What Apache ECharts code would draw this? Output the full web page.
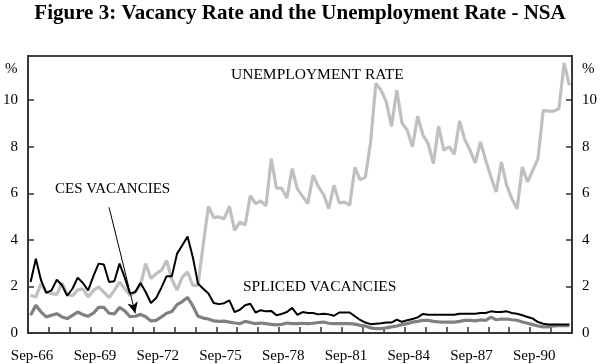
<!DOCTYPE html>
<html>
<head>
<meta charset="utf-8">
<script src="https://cdn.jsdelivr.net/npm/echarts@6/dist/echarts.min.js"></script>
<style>html,body{margin:0;padding:0;background:#fff}#c{width:600px;height:364px}</style>
</head>
<body>
<div id="c"></div>
<script>
// Quarterly categories Sep-66 .. Jun-92
var months = ['Sep', 'Dec', 'Mar', 'Jun'];
var categories = [];
(function () {
  var yr = 66;
  for (var i = 0; i < 104; i++) {
    var m = months[i % 4];
    var y = (m === 'Sep' || m === 'Dec') ? yr : yr + 1;
    categories.push(m + '-' + (y < 10 ? '0' + y : y));
    if (m === 'Jun') yr++;
  }
})();

var yTicks = [0, 2, 4, 6, 8, 10];

var unemploymentRate = [
  1.62, 1.55, 2.12, 1.76, 1.70, 1.65, 2.15, 1.66, 1.60, 1.85,
  1.90, 1.55, 1.83, 1.98, 1.76, 1.52, 1.83, 2.19, 1.90, 1.62,
  1.76, 2.05, 2.98, 2.34, 2.55, 2.69, 3.12, 2.30, 1.85, 2.40,
  2.62, 2.05, 2.05, 3.80, 5.44, 4.96, 4.99, 4.90, 5.44, 4.41,
  4.77, 4.63, 5.90, 5.56, 5.67, 5.46, 7.49, 6.22, 6.22, 5.80,
  7.06, 6.18, 5.87, 5.56, 6.78, 6.30, 5.95, 5.34, 6.35, 5.59,
  5.62, 5.49, 7.12, 6.58, 6.70, 8.20, 10.72, 10.43, 9.93, 8.88,
  10.43, 9.03, 8.71, 8.00, 9.31, 8.50, 8.14, 7.28, 8.88, 7.85,
  8.00, 7.68, 9.11, 8.31, 7.85, 7.31, 8.21, 7.42, 6.70, 6.06,
  7.35, 6.35, 5.77, 5.34, 7.13, 6.49, 6.99, 7.49, 9.57, 9.53,
  9.53, 9.64, 11.60, 10.64
];

var splicedVacancies = [
  2.19, 3.19, 2.26, 1.72, 1.83, 2.29, 2.05, 1.60, 1.90, 2.38,
  2.15, 1.83, 2.44, 2.98, 2.94, 2.19, 2.22, 2.98, 2.38, 1.69,
  1.76, 2.15, 1.76, 1.29, 1.50, 1.95, 2.44, 2.44, 3.41, 3.77,
  4.15, 3.27, 2.12, 1.90, 1.70, 1.29, 1.24, 1.28, 1.40, 0.90,
  1.00, 1.19, 1.26, 0.88, 0.98, 0.93, 0.95, 0.76, 0.82, 0.90,
  1.08, 0.78, 0.90, 0.86, 0.86, 0.80, 0.83, 0.80, 0.74, 0.88,
  0.88, 0.88, 0.72, 0.56, 0.45, 0.38, 0.40, 0.42, 0.45, 0.45,
  0.57, 0.48, 0.55, 0.60, 0.67, 0.82, 0.78, 0.78, 0.78, 0.78,
  0.78, 0.78, 0.83, 0.83, 0.83, 0.83, 0.86, 0.86, 0.93, 0.90,
  0.90, 0.93, 0.86, 0.83, 0.76, 0.69, 0.62, 0.47, 0.40, 0.37,
  0.37, 0.37, 0.37, 0.37
];

var cesVacancies = [
  0.76, 1.19, 0.90, 0.69, 0.76, 0.83, 0.69, 0.62, 0.76, 0.90,
  0.79, 0.72, 0.85, 1.10, 1.10, 0.85, 0.82, 1.10, 0.95, 0.70,
  0.72, 0.80, 0.70, 0.52, 0.54, 0.69, 0.85, 0.92, 1.22, 1.35,
  1.53, 1.17, 0.72, 0.64, 0.60, 0.52, 0.50, 0.51, 0.47, 0.43,
  0.40, 0.50, 0.45, 0.40, 0.43, 0.40, 0.37, 0.35, 0.37, 0.43,
  0.40, 0.40, 0.42, 0.40, 0.42, 0.45, 0.47, 0.42, 0.40, 0.40,
  0.40, 0.40, 0.38, 0.33, 0.30, 0.22, 0.19, 0.19, 0.22, 0.26,
  0.30, 0.36, 0.40, 0.47, 0.50, 0.54, 0.54, 0.50, 0.48, 0.47,
  0.47, 0.47, 0.50, 0.54, 0.54, 0.52, 0.56, 0.54, 0.68, 0.57,
  0.60, 0.60, 0.57, 0.55, 0.47, 0.42, 0.36, 0.30, 0.26, 0.26,
  0.30, 0.32, 0.32, 0.32
];

// annotation arrow: from [category index, value] to [category index, value]
var arrowFrom = [15, 5.4];
var arrowTo = [20, 0.85];

var FONT = '"Liberation Serif", "Times New Roman", serif';
var chart = echarts.init(document.getElementById('c'), null, { renderer: 'canvas' });

var yAxisCommon = {
  type: 'value', min: 0, max: 11.9, interval: 2,
  axisLine: { show: true, lineStyle: { color: '#333', width: 1.5 } },
  axisTick: { show: true, inside: true, length: 6, lineStyle: { color: '#333', width: 1.5 } },
  axisLabel: { fontFamily: FONT, fontSize: 15, color: '#000', margin: 10, showMaxLabel: false,
    formatter: function (v) { return yTicks.indexOf(v) >= 0 ? String(v) : ''; } },
  splitLine: { show: false }
};

chart.setOption({
  animation: false,
  backgroundColor: '#fff',
  grid: { left: 26, right: 28, top: 56, bottom: 31, show: true, borderColor: '#444', borderWidth: 2, containLabel: false },
  xAxis: {
    type: 'category', data: categories, boundaryGap: true,
    axisLine: { show: true, lineStyle: { color: '#333', width: 1.5 } },
    axisTick: { show: true, inside: true, interval: 3, length: 6, lineStyle: { color: '#333', width: 1.5 } },
    axisLabel: { interval: 11, fontFamily: FONT, fontSize: 15, color: '#000', margin: 16, padding: [0, 0, 0, 3] },
    splitLine: { show: false }
  },
  yAxis: [
    Object.assign({}, yAxisCommon, { position: 'left' }),
    Object.assign({}, yAxisCommon, { position: 'right' })
  ],
  series: [
    { name: 'UNEMPLOYMENT RATE', type: 'line', data: unemploymentRate, symbol: 'none',
      lineStyle: { color: '#c0c0c0', width: 3.2 }, z: 2 },
    { name: 'CES VACANCIES', type: 'line', data: cesVacancies, symbol: 'none',
      lineStyle: { color: '#808080', width: 3.2 }, z: 3,
      markLine: {
        silent: true, animation: false,
        symbol: ['none', 'arrow'], symbolSize: [8, 11],
        label: { show: false },
        lineStyle: { color: '#000', width: 1, type: 'solid' },
        emphasis: { disabled: true },
        data: [[{ coord: [arrowFrom[0], arrowFrom[1]] }, { coord: [arrowTo[0], arrowTo[1]] }]]
      } },
    { name: 'SPLICED VACANCIES', type: 'line', data: splicedVacancies, symbol: 'none',
      lineStyle: { color: '#000', width: 2 }, z: 4 }
  ],
  graphic: [
    { type: 'text', left: 'center', top: 3, style: { text: 'Figure 3: Vacancy Rate and the Unemployment Rate - NSA',
      font: 'bold 21px ' + FONT, fill: '#000' } },
    { type: 'text', x: 5, y: 62, style: { text: '%', font: '15px ' + FONT, fill: '#000' } },
    { type: 'text', x: 582, y: 62, style: { text: '%', font: '15px ' + FONT, fill: '#000' } },
    { type: 'text', x: 231, y: 67, style: { text: 'UNEMPLOYMENT RATE', font: '15.5px ' + FONT, fill: '#000' } },
    { type: 'text', x: 55, y: 182, style: { text: 'CES VACANCIES', font: '15px ' + FONT, fill: '#000' } },
    { type: 'text', x: 243, y: 279, style: { text: 'SPLICED VACANCIES', font: '15.5px ' + FONT, fill: '#000' } }
  ]
});
</script>
</body>
</html>
